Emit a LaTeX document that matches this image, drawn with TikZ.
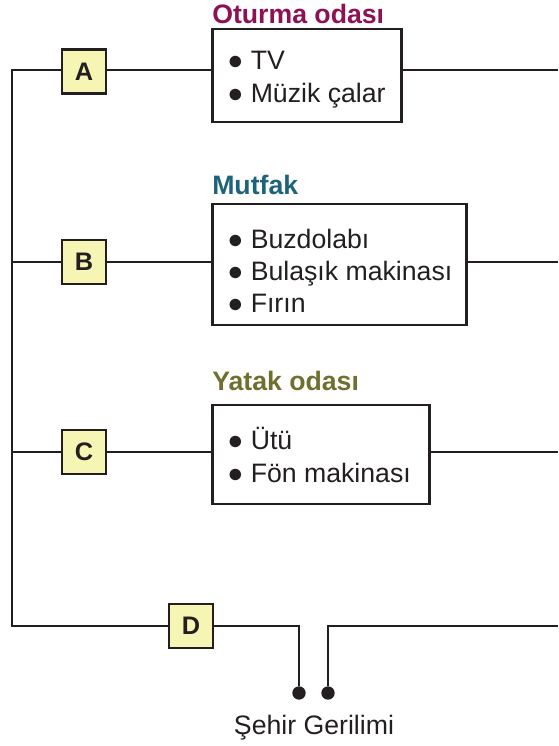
\documentclass[tikz,border=0pt]{standalone}
\usepackage{fontspec}
\setmainfont{Liberation Sans}
\definecolor{boxy}{HTML}{F7F5B4}
\definecolor{ink}{HTML}{231F20}
\definecolor{ct}{HTML}{8E1156}
\definecolor{ck}{HTML}{1D6379}
\definecolor{cy}{HTML}{6F7030}
\tikzset{x=0.75pt,y=-0.75pt,
 wire/.style={line width=1.7pt,draw=ink},
 sw/.style={draw=ink,line width=1.7pt,fill=boxy,minimum width=33pt,minimum height=33pt,inner sep=0pt,text=ink,font=\fontsize{19}{19}\selectfont\bfseries},
 room/.style={draw=ink,line width=1.7pt,fill=white,inner sep=0pt},
 lst/.style={anchor=base west,inner sep=0pt,font=\fontsize{20}{20}\selectfont,text=ink},
 ttl/.style={anchor=base west,inner sep=0pt,font=\fontsize{20}{20}\selectfont\bfseries},
 dot/.style={circle,fill=ink,inner sep=0pt,minimum size=10pt}}
\begin{document}
\begin{tikzpicture}
\useasboundingbox (0,0) rectangle (558,746);
\coordinate (tl) at (12,70);\coordinate (ml1) at (12,262);\coordinate (ml2) at (12,452);\coordinate (bl) at (12,626);
\coordinate (e1) at (558,70);\coordinate (e2) at (558,262);\coordinate (e3) at (558,452);\coordinate (e4) at (558,626);
\coordinate (c1) at (299,626);\coordinate (c2) at (328,626);
\node[room,minimum width=141.75pt,minimum height=69.75pt] (r1) at (307,75.5) {};
\node[room,minimum width=190.5pt,minimum height=90.75pt] (r2) at (339.5,264.5) {};
\node[room,minimum width=162.75pt,minimum height=74.25pt] (r3) at (321,454.5) {};
\node[sw] (A) at (84,71.5) {A};
\node[sw] (B) at (84,262) {B};
\node[sw] (C) at (84,452) {C};
\node[sw] (D) at (191,626) {D};
\node[dot] (d1) at (299,693) {};
\node[dot] (d2) at (328,693) {};
\draw[wire] (A.west|-tl) -- (tl) -- (bl) -- (D);
\draw[wire] (A.east|-tl) -- (r1.west|-tl);
\draw[wire] (B) -- (r2.west|-B);
\draw[wire] (C) -- (r3.west|-C);
\draw[wire] (ml1) -- (B);
\draw[wire] (ml2) -- (C);
\draw[wire] (r1.east|-e1) -- (e1);
\draw[wire] (r2.east|-e2) -- (e2);
\draw[wire] (r3.east|-e3) -- (e3);
\draw[wire] (D) -- (c1) -- (d1);
\draw[wire] (e4) -- (c2) -- (d2);
\node[ttl,text=ct] (t1) at (212,23) {Oturma odası};
\node[ttl,text=ck] (t2) at (212,194) {Mutfak};
\node[ttl,text=cy] (t3) at (212,390) {Yatak odası};
\node[lst] (a1) at (227,69) {● TV};
\node[lst] (a2) at (227,102) {● Müzik çalar};
\node[lst] (b1) at (227,248) {● Buzdolabı};
\node[lst] (b2) at (227,280) {● Bulaşık makinası};
\node[lst] (b3) at (227,312) {● Fırın};
\node[lst] (c1t) at (227,449) {● Ütü};
\node[lst] (c2t) at (227,482) {● Fön makinası};
\node[lst,anchor=base] (city) at (314,734) {Şehir Gerilimi};
\end{tikzpicture}
\end{document}
